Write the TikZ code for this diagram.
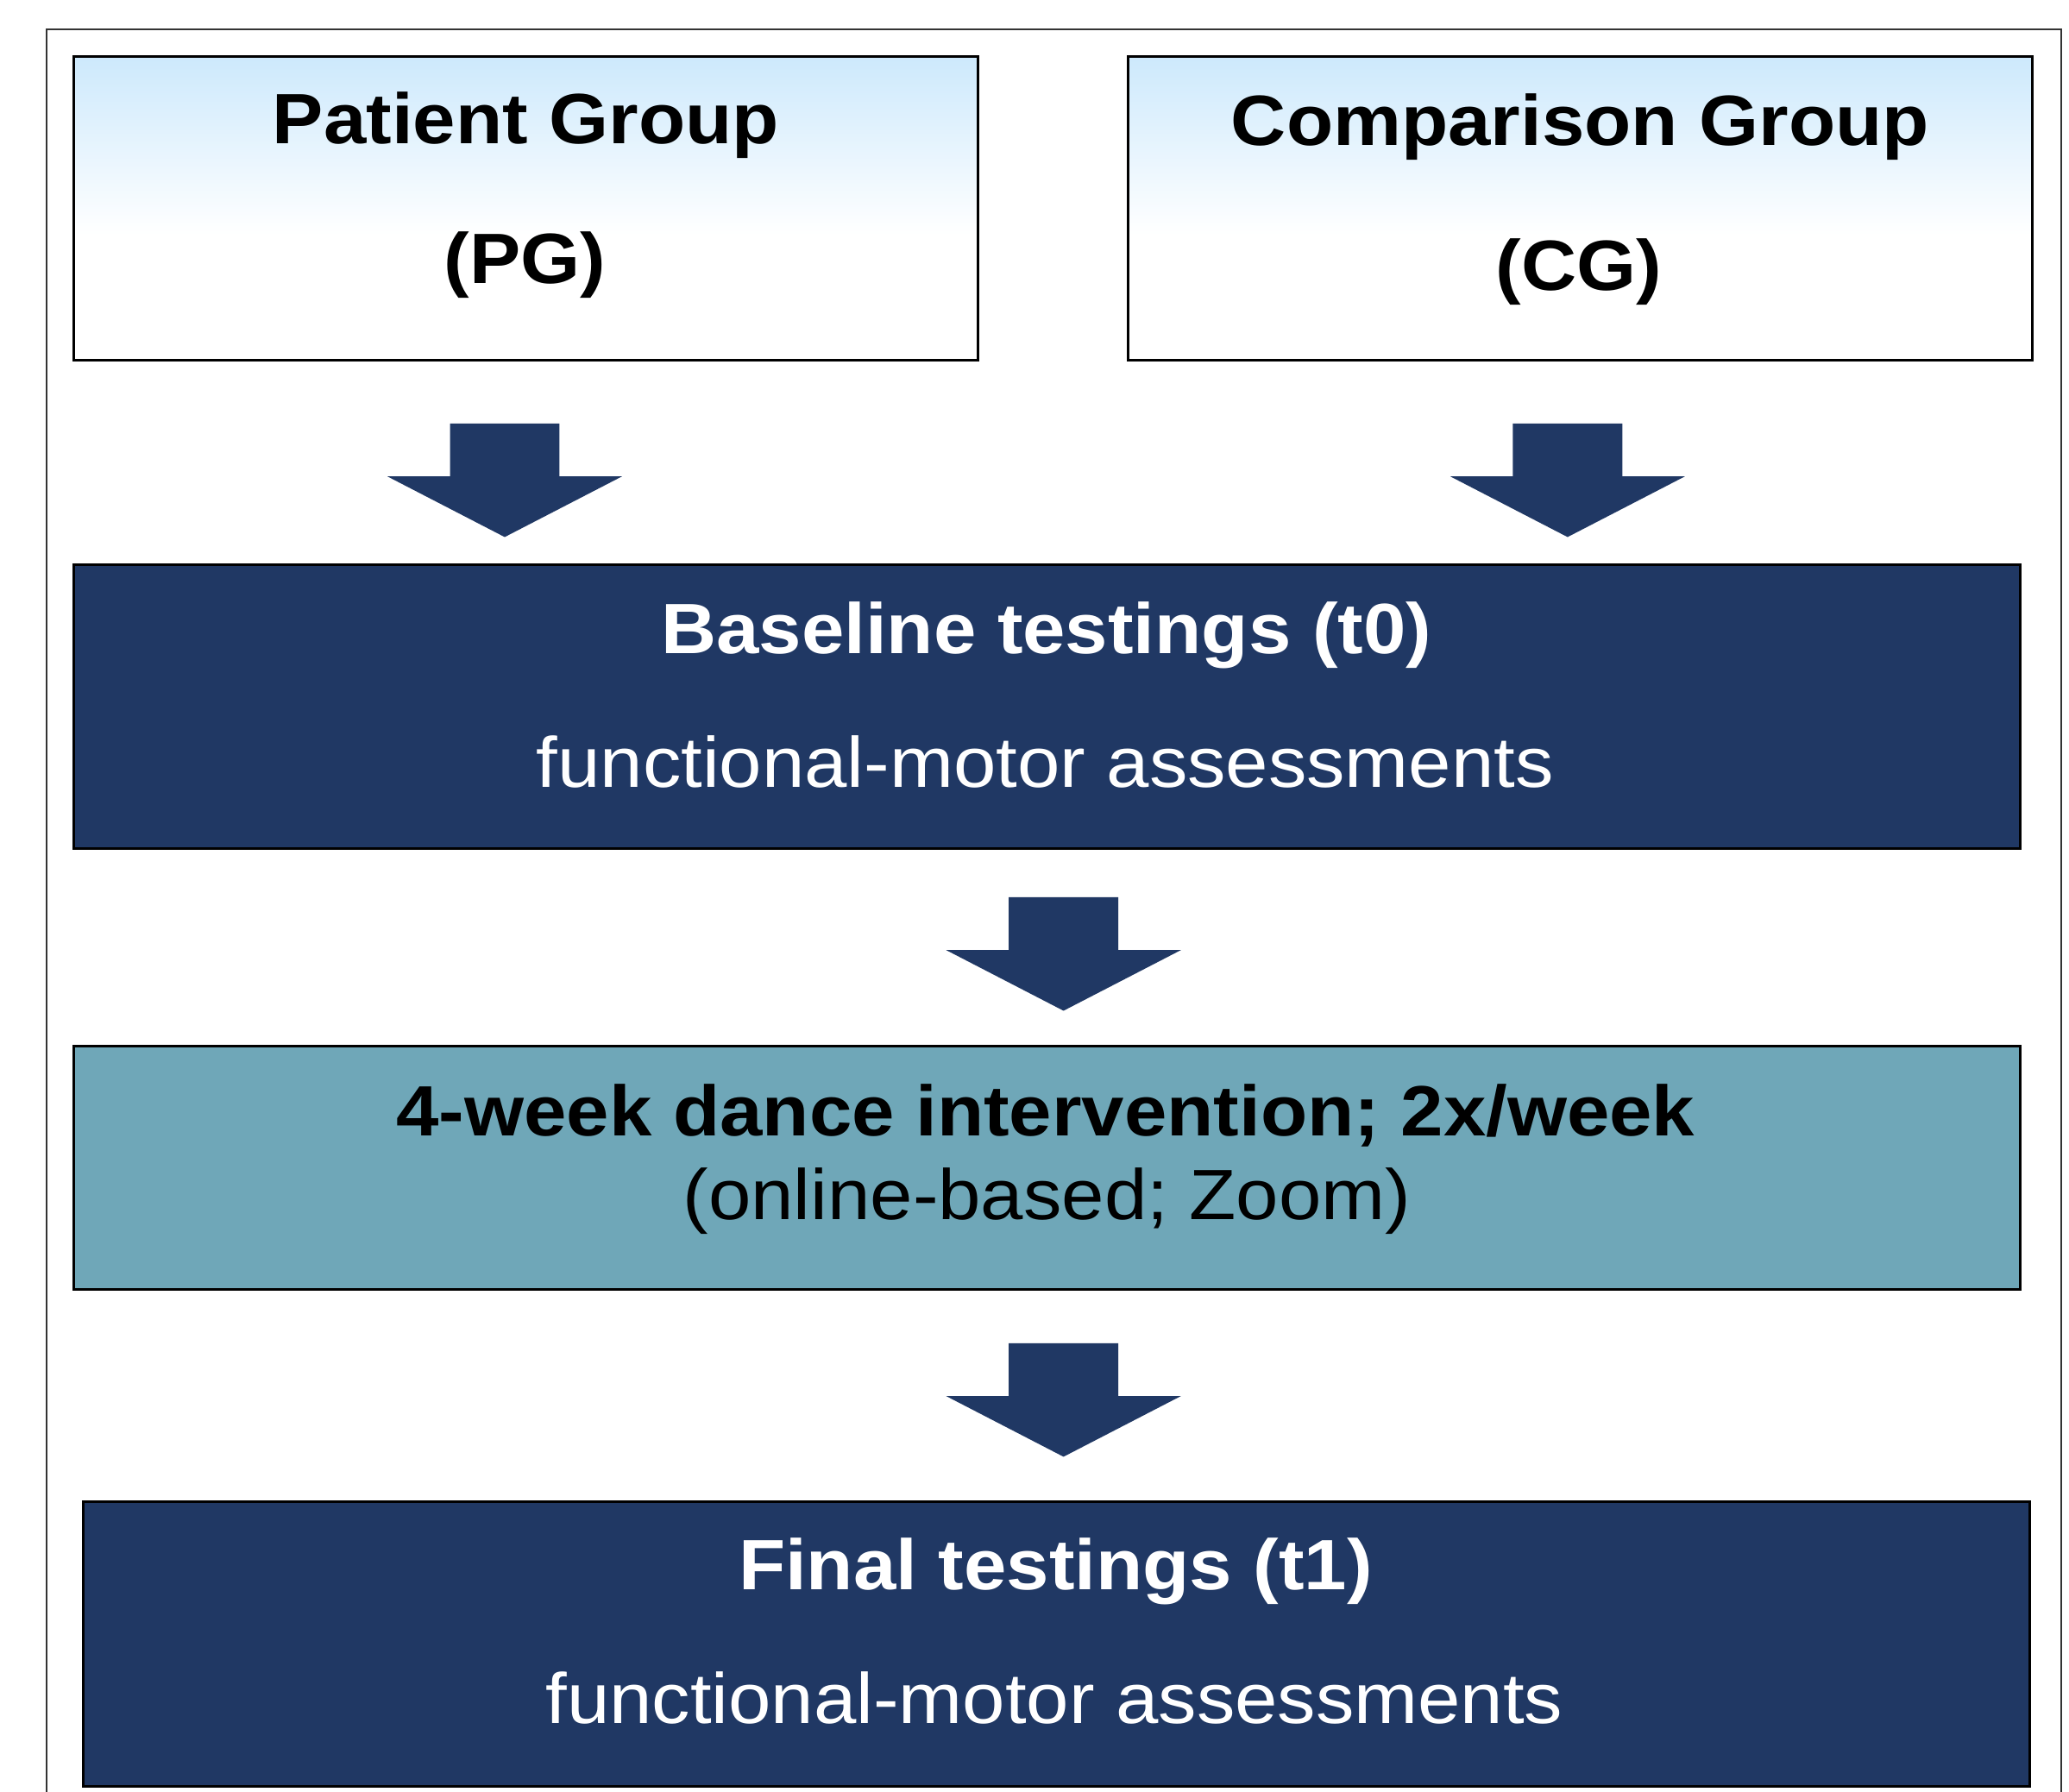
\documentclass[tikz,border=0pt]{standalone}
\usepackage{fontspec}
\setmainfont{Liberation Sans}[FakeStretch=1.075]
\definecolor{navy}{HTML}{203864}
\definecolor{tealbg}{HTML}{6FA7B8}
\definecolor{lblue}{HTML}{CDE9FC}
\tikzset{
  boxbase/.style={draw=black, line width=2pt, inner sep=0pt, outer sep=0pt, rectangle},
  navybox/.style={boxbase, fill=navy},
  tealbox/.style={boxbase, fill=tealbg},
  groupbox/.style={boxbase},
  txt/.style={anchor=base, inner sep=0pt, font=\fontsize{54}{60}\selectfont},
  btxt/.style={anchor=base, inner sep=0pt, font=\fontsize{54}{60}\selectfont\bfseries},
  blockarrow/.style={fill=navy, draw=none},
  frameline/.style={draw=black!80, line width=1.3pt},
}
\newcommand\dnarrow[2]{%
  \fill[blockarrow] (#1-41.5,#2) -- (#1+41.5,#2) -- (#1+41.5,#2+40) -- (#1+89,#2+40)
    -- (#1,#2+86) -- (#1-89,#2+40) -- (#1-41.5,#2+40) -- cycle;}
\begin{document}
\begin{tikzpicture}[x=1pt, y=-1pt]
\useasboundingbox (0,0) rectangle (1568,1358);
\fill[white] (0,0) rectangle (1568,1358);
% outer frame (open at bottom)
\draw[frameline] (35,1370) -- (35,22) -- (1562,22) -- (1562,1370);
% group boxes with top gradient
\shade[top color=lblue, bottom color=white] (56,43) rectangle (741,178);
\shade[top color=lblue, bottom color=white] (855,43) rectangle (1540,178);
\node[groupbox, minimum width=685pt, minimum height=230pt] (pg) at (398.5,158) {};
\node[groupbox, minimum width=685pt, minimum height=230pt] (cg) at (1197.5,158) {};
\node[btxt] (pgt1) at (398.5,109) {Patient Group};
\node[btxt] (pgt2) at (398,214.5) {(PG)};
\node[btxt] (cgt1) at (1197.5,110) {Comparison Group};
\node[btxt] (cgt2) at (1196.5,220) {(CG)};
% arrows from groups
\dnarrow{382.5}{321}
\dnarrow{1188}{321}
% baseline box
\node[navybox, minimum width=1475pt, minimum height=215pt] (base) at (793.5,535.5) {};
\node[btxt, text=white] (baset1) at (793,495.5) {Baseline testings (t0)};
\node[txt, text=white] (baset2) at (792,596.5) {functional-motor assessments};
\dnarrow{806}{680}
% dance box
\node[tealbox, minimum width=1475pt, minimum height=184pt] (dance) at (793.5,885) {};
\node[btxt] (dancet1) at (792.5,861) {4-week dance intervention; 2x/week};
\node[txt] (dancet2) at (793.5,924) {(online-based; Zoom)};
\dnarrow{806}{1018}
% final box
\node[navybox, minimum width=1475pt, minimum height=216pt] (final) at (800.5,1246) {};
\node[btxt, text=white] (finalt1) at (800,1205) {Final testings (t1)};
\node[txt, text=white] (finalt2) at (799,1306) {functional-motor assessments};
\end{tikzpicture}
\end{document}
